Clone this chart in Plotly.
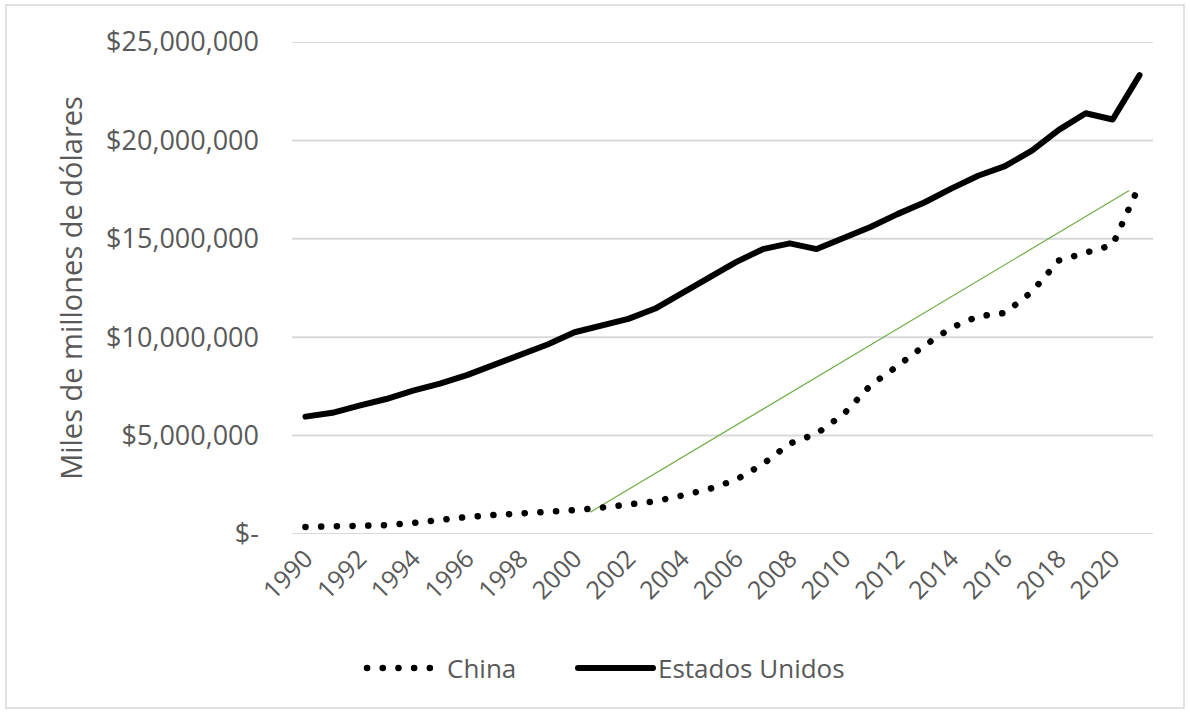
import plotly.graph_objects as go

years = list(range(1990, 2022))
china = [360858, 383373, 426916, 444731, 564325, 734485, 863747, 961604, 1029043, 1093997,
         1211347, 1339396, 1470550, 1660280, 1955347, 2285966, 2752132, 3550342, 4594307, 5101703,
         6087164, 7551500, 8532230, 9570406, 10475683, 11061553, 11233277, 12310409, 13894818,
         14279937, 14687674, 17734063]
usa = [5963144, 6158129, 6520327, 6858559, 7287236, 7639749, 8073122, 8577552, 9062817, 9631172,
       10250952, 10581929, 10929108, 11456450, 12217196, 13039197, 13815583, 14474228, 14769862,
       14478067, 15048971, 15599731, 16253970, 16843196, 17550687, 18206023, 18695106, 19477337,
       20533058, 21380976, 21060474, 23315081]
trend_x = [2000.6, 2020.6]
trend_y = [1120000, 17440000]

y_ticks = [0, 5000000, 10000000, 15000000, 20000000, 25000000]
y_labels = ["$-", "$5,000,000", "$10,000,000", "$15,000,000", "$20,000,000", "$25,000,000"]
x_ticks = list(range(1990, 2021, 2))

FONT = "Open Sans"
GREY = "#595959"

fig = go.Figure()
for yv in y_ticks:
    fig.add_shape(type="line", xref="paper", yref="y", x0=0, x1=1, y0=yv, y1=yv,
                  line=dict(color="#d9d9d9", width=2), layer="below")
fig.add_trace(go.Scatter(x=trend_x, y=trend_y, mode="lines", showlegend=False,
                         line=dict(color="#70ad47", width=1.2), hoverinfo="skip"))
fig.add_trace(go.Scatter(x=years, y=china, mode="lines", name="China", legend="legend",
                         line=dict(color="black", width=6.5, dash="0.1px,15.6px")))
fig.add_trace(go.Scatter(x=years, y=usa, mode="lines", name="Estados Unidos", legend="legend2",
                         line=dict(color="black", width=6)))

L, R, T, B = 292, 1153, 42, 534
W, H = 1190, 714
pw, ph = R - L, B - T

def px(x):
    return (x - L) / pw

def py(y):
    return (B - y) / ph

fig.add_shape(type="rect", xref="paper", yref="paper",
              x0=px(6), x1=px(1184), y0=py(708), y1=py(5),
              line=dict(color="#d9d9d9", width=1.5), fillcolor="rgba(0,0,0,0)", layer="below")

legend_font = dict(size=26, color=GREY, family=FONT)
fig.update_layout(
    width=W, height=H, autosize=False,
    margin=dict(l=L, r=W - R, t=T, b=H - B, pad=0, autoexpand=False),
    paper_bgcolor="white", plot_bgcolor="white",
    font=dict(family=FONT, color=GREY, size=24),
    xaxis=dict(range=[1989.5, 2021.5], tickvals=x_ticks, ticktext=[str(v) for v in x_ticks],
               tickangle=-45, showgrid=False, zeroline=False, showline=False, ticks="",
               tickfont=dict(size=25, color=GREY, family=FONT), automargin=False,
               ticklabelstandoff=4),
    yaxis=dict(range=[0, 25000000], tickvals=y_ticks, ticktext=y_labels,
               showgrid=False, zeroline=False,
               showline=False, ticks="", automargin=False, ticklabelstandoff=32,
               tickfont=dict(size=27, color=GREY, family=FONT),
               title=dict(text="Miles de millones de dólares", font=dict(size=29, color=GREY, family=FONT),
                          standoff=14)),
    legend=dict(orientation="h", x=px(362), xanchor="left",
                y=py(668), yanchor="middle", font=legend_font, itemwidth=75),
    legend2=dict(orientation="h", x=px(573), xanchor="left",
                 y=py(668), yanchor="middle", font=legend_font, itemwidth=75),
    showlegend=True,
)

post = """
document.body.style.margin = '0';
function fixCaps(){
  document.querySelectorAll('path.js-line').forEach(function(p){
    p.style.strokeLinecap = 'round';
    p.style.strokeLinejoin = 'round';
  });
}
fixCaps();
var gd = document.getElementsByClassName('plotly-graph-div')[0];
if (gd && gd.on) { gd.on('plotly_afterplot', fixCaps); }
"""

fig.write_html("out.html", post_script=post, config={"displayModeBar": False})
